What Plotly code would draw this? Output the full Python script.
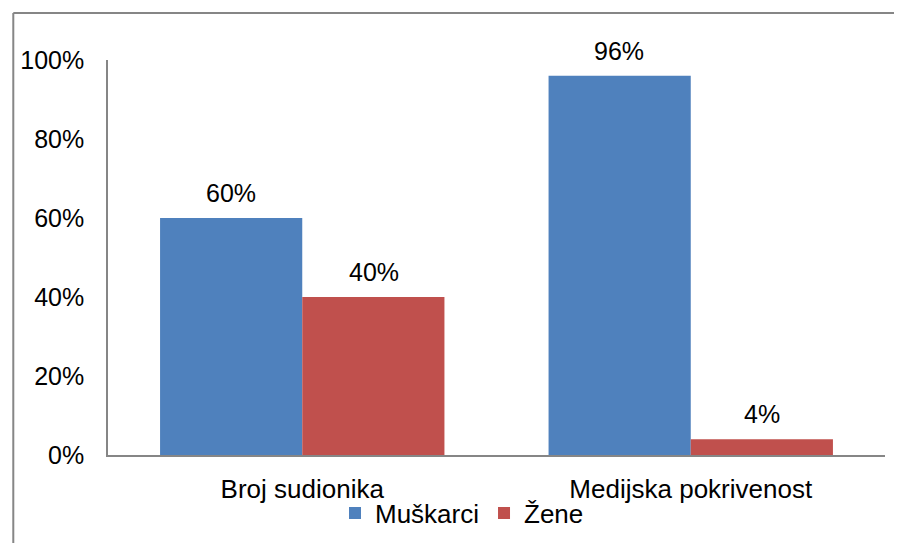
import plotly.graph_objects as go

categories = ["Broj sudionika", "Medijska pokrivenost"]
muskarci = [60, 96]
zene = [40, 4]
series_names = ["Muškarci", "Žene"]
colors = ["#4F81BD", "#C0504D"]
y_ticks = [0, 20, 40, 60, 80, 100]
y_tick_labels = [f"{v}%" for v in y_ticks]

FONT = "Liberation Sans, Arial, sans-serif"
W, H = 902, 543
OFF = 8  # page body margin offset
L, R, T, B = 104 - OFF, W - (885 - OFF), 60 - OFF, H - (455 - OFF)
pw, ph = W - L - R, H - T - B

fig = go.Figure()
for name, vals, col in zip(series_names, [muskarci, zene], colors):
    fig.add_trace(go.Bar(
        name=name, x=categories, y=vals, marker=dict(color=col, line=dict(width=0)),
    ))

# data labels
for i, vals in enumerate([muskarci, zene]):
    shift = (-1 if i == 0 else 1) * 71.5
    for c, v in zip(categories, vals):
        fig.add_annotation(x=c, y=v, xref="x", yref="y", text=f"{v}%",
                           showarrow=False, xshift=shift, yanchor="bottom", yshift=9,
                           font=dict(family=FONT, size=25, color="#000000"))

# chart area border (top and left visible)
bx = (0.8 - L) / pw
by = 1 + (T - 5) / ph
fig.add_shape(type="line", xref="paper", yref="paper", x0=bx, x1=1 + R / pw + 0.01, y0=by, y1=by,
              line=dict(color="#868686", width=2))
fig.add_shape(type="line", xref="paper", yref="paper", x0=bx, x1=bx, y0=by, y1=-B / ph - 0.01,
              line=dict(color="#868686", width=2))

fig.update_layout(
    width=W, height=H,
    margin=dict(l=L, r=R, t=T, b=B),
    paper_bgcolor="white", plot_bgcolor="white",
    barmode="group", bargap=0.268, bargroupgap=0,
    font=dict(family=FONT, size=25, color="#000000"),
    showlegend=True,
    legend=dict(orientation="h", x=0.4556, xanchor="center", y=-0.147, yanchor="middle",
                font=dict(family=FONT, size=26), itemwidth=30, tracegroupgap=0,
                bgcolor="rgba(0,0,0,0)"),
    xaxis=dict(showline=True, linecolor="#868686", linewidth=1.5, showgrid=False,
               ticks="", tickfont=dict(family=FONT, size=26), ticklabelstandoff=10),
    yaxis=dict(range=[0, 100], tickvals=y_ticks, ticktext=y_tick_labels,
               showline=True, linecolor="#868686", linewidth=1.5, showgrid=False,
               zeroline=False, ticks="", tickfont=dict(family=FONT, size=25),
               ticklabelstandoff=17),
)

fig.write_html("out.html")
